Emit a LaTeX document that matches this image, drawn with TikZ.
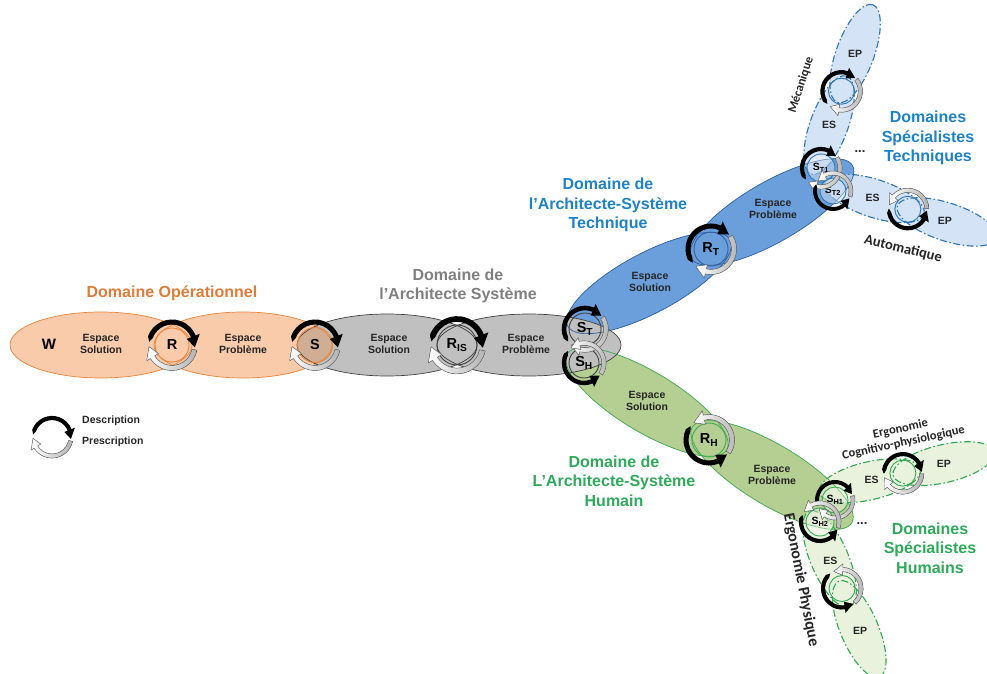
\documentclass[tikz,border=0pt]{standalone}
\usepackage{fontspec}
\setmainfont{Liberation Sans}
\newfontfamily\calibrif{Carlito}
\usepackage{tikz}
\usetikzlibrary{shapes.geometric,positioning}

\definecolor{opfill}{HTML}{F9CBAA}
\definecolor{opline}{HTML}{E8843C}
\definecolor{optext}{HTML}{E07B39}
\definecolor{opgr}{HTML}{D0AE94}
\definecolor{grfill}{HTML}{C0C0C0}
\definecolor{grline}{HTML}{404040}
\definecolor{grtext}{HTML}{7F7F7F}
\definecolor{blfill}{HTML}{6A9FDB}
\definecolor{blline}{HTML}{2F5F9F}
\definecolor{bltext}{HTML}{1E82C8}
\definecolor{blspec}{HTML}{C5D9F1}
\definecolor{bldash}{HTML}{2E75B6}
\definecolor{gnfill}{HTML}{B5CE91}
\definecolor{gnline}{HTML}{3AAA50}
\definecolor{gntext}{HTML}{2EAA5A}
\definecolor{gnspec}{HTML}{E2EDD2}
\definecolor{gndash}{HTML}{33A852}

% description / prescription arrows round a point
\newcommand\cyclearrows[4]{%
  \begin{scope}[shift={(#1)},rotate=#3,yscale=#4]
    \pgfmathsetmacro\cyR{#2}
    \pgfmathsetmacro\cyRo{\cyR*1.11}
    \pgfmathsetmacro\cyRi{\cyR*0.89}
    \pgfmathsetmacro\cyHo{\cyR*1.3}
    \pgfmathsetmacro\cyHi{\cyR*0.7}
    \fill[black] (172:\cyR) -- (160:\cyRo) arc[start angle=160,end angle=22,radius=\cyRo]
      -- (22:\cyHo) -- (-6:\cyR) -- (22:\cyHi) -- (22:\cyRi)
      arc[start angle=22,end angle=160,radius=\cyRi] -- cycle;
    \filldraw[draw=black!60,line width=0.4,left color=white,right color=black!30]
      (-12:\cyRo) arc[start angle=-12,end angle=-148,radius=\cyRo]
      -- (-148:\cyHo) -- (-176:\cyR) -- (-148:\cyHi) -- (-148:\cyRi)
      arc[start angle=-148,end angle=-12,radius=\cyRi] -- cycle;
  \end{scope}}

\tikzset{
  txt/.style={font=\bfseries\fontsize{10.5}{12.5}\selectfont,align=center,text=black!85,inner sep=0pt},
  big/.style={font=\bfseries\fontsize{15}{15}\selectfont,inner sep=0pt},
  ttl/.style={font=\bfseries\fontsize{16}{19.5}\selectfont,align=center,inner sep=0pt},
  sidelbl/.style={font=\calibrif\bfseries\fontsize{12.5}{14}\selectfont,align=center,inner sep=0pt,text=black!85},
  ring/.style={circle,inner sep=0pt,line width=0.9pt,font=\bfseries\fontsize{14.5}{15}\selectfont},
  sring/.style={ring,font=\bfseries\fontsize{10.5}{12}\selectfont,fill=white,fill opacity=.35,text opacity=1},
  dashdot/.style={dash pattern=on 7pt off 2.5pt on 1.5pt off 2.5pt,line width=1.1pt}
}

\begin{document}
\begin{tikzpicture}[x=1pt,y=1pt]
\useasboundingbox (0,0) rectangle (987,-674);

% domain ellipses
\foreach \cx/\cy/\rx/\ry/\ang/\col in {101/345/91/33/0/opfill,243/345/89/33/0/opfill,
    649/283/92/30/28/blfill,772/212/93/30/30/blfill,647/402/93/30/-31/gnfill,
    772/475/93/30/-31/gnfill,387/345/90/31/0/grfill,529/345/92/31/0/grfill}
  \fill[\col,rotate around={\ang:(\cx,-\cy)}] (\cx,-\cy) ellipse[x radius=\rx,y radius=\ry];
\begin{scope}
  \clip (243,-345) ellipse[x radius=89,y radius=33];
  \fill[opgr] (387,-345) ellipse[x radius=90,y radius=31];
\end{scope}

% specialist domains
\foreach \px/\py/\ang/\col in {812/172/70/blspec,827/183/-18/blspec,821/492/13/gnspec,810/513/-67/gnspec}
  \fill[\col,fill opacity=0.75,shift={(\px,-\py)},rotate=\ang]
    (50,0) ellipse[x radius=52,y radius=19] (126,0) ellipse[x radius=52,y radius=19];

% outlines
\foreach \cx/\cy/\rx/\ry/\ang/\col in {101/345/91/33/0/opline,243/345/89/33/0/opline,
    649/283/92/30/28/blline,772/212/93/30/30/blline,647/402/93/30/-31/gnline,
    772/475/93/30/-31/gnline,387/345/90/31/0/grline,529/345/92/31/0/grline}
  \draw[\col,line width=0.7,rotate around={\ang:(\cx,-\cy)}] (\cx,-\cy) ellipse[x radius=\rx,y radius=\ry];
\foreach \px/\py/\ang/\col in {812/172/70/bldash,827/183/-18/bldash,821/492/13/gndash,810/513/-67/gndash}
  \draw[\col,dashdot,shift={(\px,-\py)},rotate=\ang]
    (50,0) ellipse[x radius=52,y radius=19] (126,0) ellipse[x radius=52,y radius=19];

% spaces
\node[big] (W) at (49,-344) {W};
\node[txt] (opSol) at (101,-344) {Espace\\Solution};
\node[txt] (opPb) at (243,-344) {Espace\\Problème};
\node[txt] (grSol) at (389,-344) {Espace\\Solution};
\node[txt] (grPb) at (526,-344) {Espace\\Problème};
\node[txt] (blSol) at (650,-282) {Espace\\Solution};
\node[txt] (blPb) at (773,-209) {Espace\\Problème};
\node[txt] (gnSol) at (647,-401) {Espace\\Solution};
\node[txt] (gnPb) at (772,-475) {Espace\\Problème};

\begin{scope}[shift={(812,-172)},rotate=70]
  \node[ring,draw=bldash,minimum size=26pt] (mecC) at (86,0) {};
  \node[txt] (mecES) at (50,0) {ES};
  \node[txt] (mecEP) at (126,0) {EP};
\end{scope}
\begin{scope}[shift={(827,-183)},rotate=-18]
  \node[ring,draw=bldash,minimum size=26pt] (autC) at (85,0) {};
  \node[txt] (autES) at (48,0) {ES};
  \node[txt] (autEP) at (124,0) {EP};
\end{scope}
\begin{scope}[shift={(821,-492)},rotate=13]
  \node[ring,draw=gndash,minimum size=26pt] (cogC) at (84,0) {};
  \node[txt] (cogES) at (52,0) {ES};
  \node[txt] (cogEP) at (126,0) {EP};
\end{scope}
\begin{scope}[shift={(810,-513)},rotate=-67]
  \node[ring,draw=gndash,minimum size=26pt] (phyC) at (82,0) {};
  \node[txt] (phyES) at (52,0) {ES};
  \node[txt] (phyEP) at (128,0) {EP};
\end{scope}

% junctions
\node[ring,draw=opline,minimum size=34pt] (R) at (172,-345) {R};
\node[ring,draw=opline,minimum size=35pt] (S) at (315,-345) {S};
\node[ring,draw=grline,minimum size=40pt] (RIS) at (457,-345) {R\textsubscript{IS}};
\node[ring,draw=grline,minimum size=32pt] (ST) at (585,-329) {S\textsubscript{T}};
\node[ring,draw=grline,minimum size=30pt] (SH) at (584,-363) {S\textsubscript{H}};
\node[ring,draw=blline,minimum size=34pt] (RT) at (711,-249) {R\textsubscript{T}};
\node[ring,draw=gnline,minimum size=34pt] (RH) at (709,-440) {R\textsubscript{H}};
\node[sring,draw=bldash,minimum size=28pt] (ST1) at (821,-168) {S\textsubscript{T1}};
\node[sring,draw=bldash,minimum size=26pt] (ST2) at (833,-191) {S\textsubscript{T2}};
\node[sring,draw=gndash,minimum size=26pt] (SH1) at (835,-500) {S\textsubscript{H1}};
\node[sring,draw=gndash,minimum size=28pt] (SH2) at (820,-522) {S\textsubscript{H2}};

\cyclearrows{R}{23}{0}{1}
\cyclearrows{S}{23}{0}{1}
\cyclearrows{RIS}{26}{0}{1}
\cyclearrows{ST}{21}{45}{1}
\cyclearrows{SH}{20}{-45}{-1}
\cyclearrows{RT}{23}{45}{1}
\cyclearrows{RH}{23}{-45}{-1}
\cyclearrows{ST1}{19}{45}{1}
\cyclearrows{ST2}{18}{-30}{-1}
\cyclearrows{SH1}{18}{25}{1}
\cyclearrows{SH2}{19}{-30}{-1}
\cyclearrows{mecC}{19}{50}{1}
\cyclearrows{autC}{19}{-10}{-1}
\cyclearrows{cogC}{19}{10}{1}
\cyclearrows{phyC}{19}{-60}{-1}

% titles
\node[ttl,text=optext] (opTtl) at (172,-293) {Domaine Opérationnel};
\node[ttl,text=grtext] (grTtl) at (458,-286) {Domaine de\\l'Architecte Système};
\node[ttl,text=bltext] (blTtl) at (608,-205) {Domaine de\\l'Architecte-Système\\Technique};
\node[ttl,text=gntext] (gnTtl) at (614,-481) {Domaine de\\L'Architecte-Système\\Humain};
\node[ttl,text=bltext] (spTTtl) at (928,-138) {Domaines\\Spécialistes\\Techniques};
\node[ttl,text=gntext] (spHTtl) at (930,-548) {Domaines\\Spécialistes\\Humains};
\node[txt,font=\bfseries\fontsize{13}{13}\selectfont] (dotsT) at (860,-152) {...};
\node[txt,font=\bfseries\fontsize{13}{13}\selectfont] (dotsH) at (862,-524) {...};

\node[sidelbl,rotate=72] (mecLbl) at (801,-85) {Mécanique};
\node[sidelbl,rotate=-14,font=\calibrif\bfseries\fontsize{14.5}{16}\selectfont] (autLbl) at (903,-249) {Automatique};
\node[sidelbl,rotate=12] (cogLbl) at (902,-436) {Ergonomie\\Cognitivo-physiologique};
\node[sidelbl,rotate=-79,font=\calibrif\bfseries\fontsize{16}{18}\selectfont] (phyLbl) at (801,-580) {Ergonomie Physique};

% legend
\coordinate (leg) at (52,-437);
\cyclearrows{leg}{19}{0}{1}
\node[txt,anchor=west] (desc) at (82,-421) {Description};
\node[txt,anchor=west] (presc) at (82,-442) {Prescription};
\end{tikzpicture}
\end{document}
